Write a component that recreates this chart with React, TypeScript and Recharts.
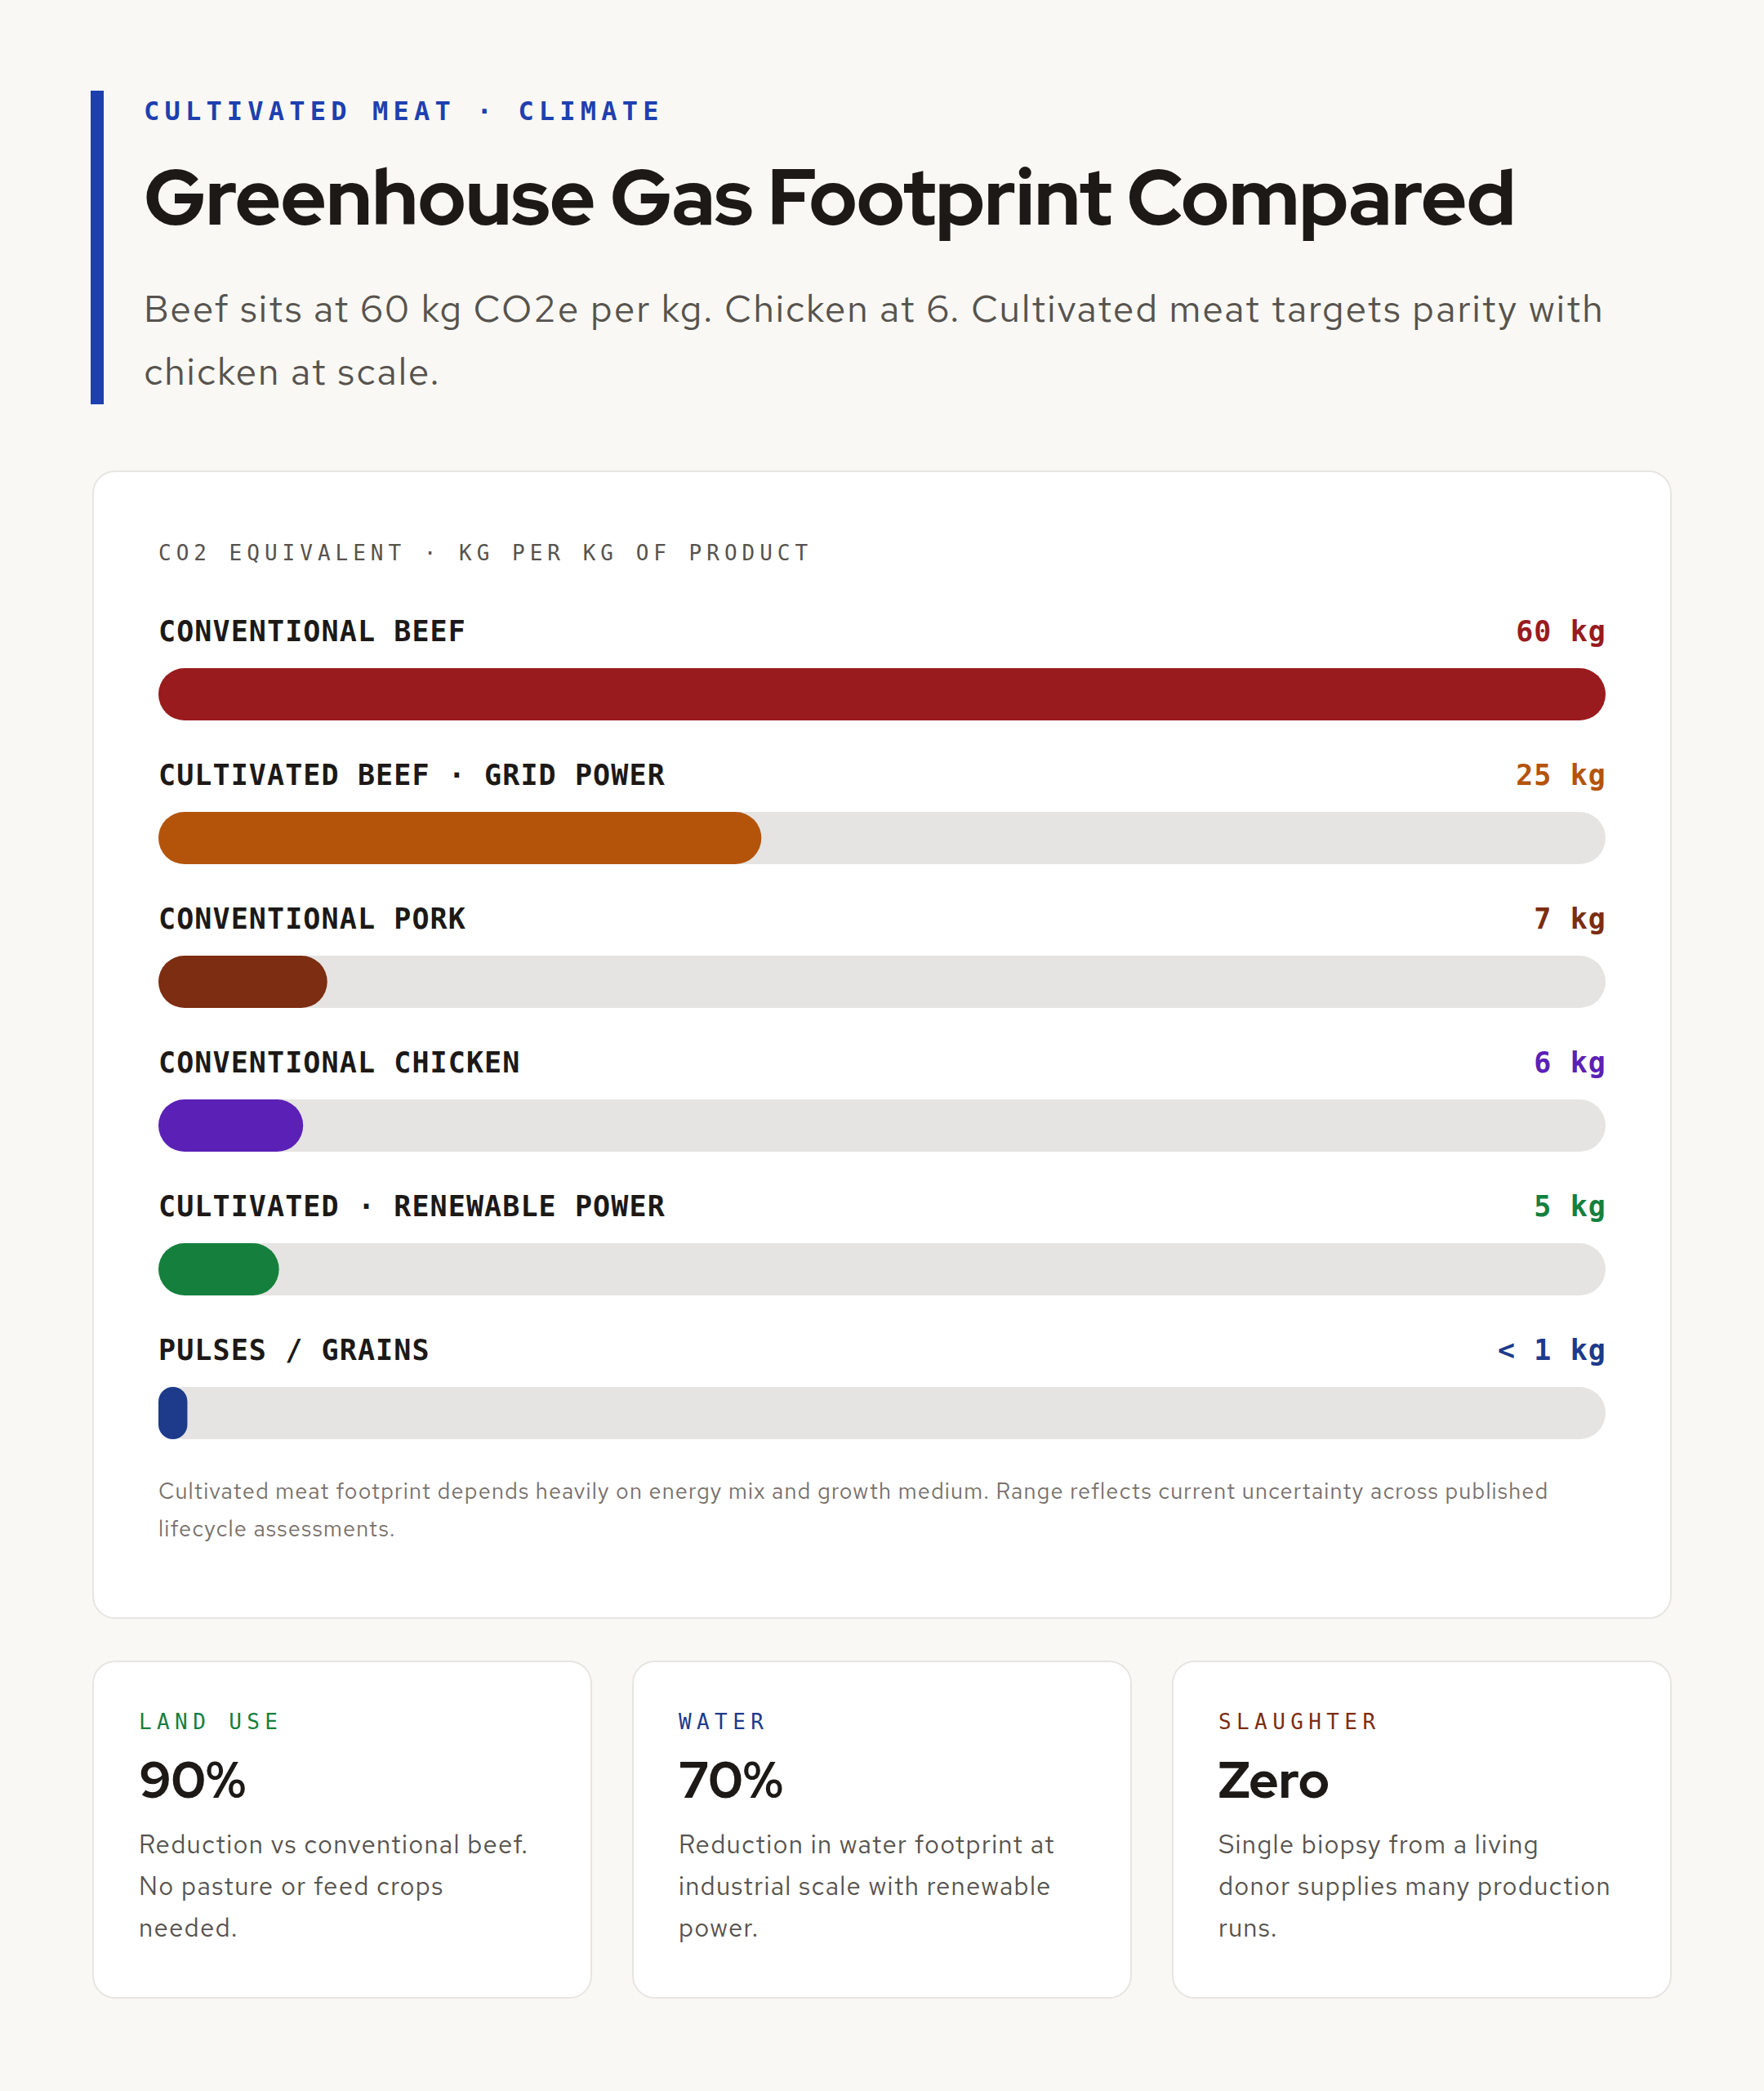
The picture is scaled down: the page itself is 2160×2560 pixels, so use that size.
import { Bar, BarChart, Cell, LabelList, XAxis, YAxis } from "recharts";

const CATEGORIES = [
  "CONVENTIONAL BEEF",
  "CULTIVATED BEEF · GRID POWER",
  "CONVENTIONAL PORK",
  "CONVENTIONAL CHICKEN",
  "CULTIVATED · RENEWABLE POWER",
  "PULSES / GRAINS",
];
const VALUES_KG = [60, 25, 7, 6, 5, 0.5];
const VALUE_LABELS = ["60 kg", "25 kg", "7 kg", "6 kg", "5 kg", "< 1 kg"];
const ROW_COLORS = ["#991B1E", "#B4540B", "#7C2D12", "#5B21B6", "#15803D", "#1E3A8A"];

const STAT_LABELS = ["LAND USE", "WATER", "SLAUGHTER"];
const STAT_VALUES = ["90%", "70%", "Zero"];
const STAT_NOTES = [
  ["Reduction vs conventional beef.", "No pasture or feed crops", "needed."],
  ["Reduction in water footprint at", "industrial scale with renewable", "power."],
  ["Single biopsy from a living", "donor supplies many production", "runs."],
];
const STAT_COLORS = ["#15803D", "#1E3A8A", "#7C2D12"];

const rows = CATEGORIES.map((name, i) => ({ name, value: VALUES_KG[i], display: VALUE_LABELS[i] }));

const DISPLAY = "'Red Hat Display', Lato, 'Noto Sans', sans-serif";
const TEXT = "'Red Hat Text', 'Red Hat Display', Lato, 'Noto Sans', sans-serif";
const MONO = "'DejaVu Sans Mono', monospace";
const INK = "#1C1917";
const MUTED = "#57534E";

const TRACK_W = 1772;
const BAR_H = 64;
const MIN_BAR = TRACK_W * 0.02;

function Track(props: any) {
  const { x, y, width, height } = props;
  return <rect x={x} y={y} width={width} height={height} rx={height / 2} ry={height / 2} fill="#E5E4E2" />;
}

function Pill(props: any) {
  const { x, y, height, fill } = props;
  const w = Math.max(props.width, MIN_BAR);
  const r = Math.min(w, height) / 2;
  return <rect x={x} y={y} width={w} height={height} rx={r} ry={r} fill={fill} />;
}

function NameLabel(props: any) {
  const vb = props.viewBox ?? props;
  return (
    <text x={vb.x} y={vb.y - 33} fill={INK} fontFamily={MONO} fontWeight={700} fontSize={35}
      style={{ letterSpacing: 1.1 }}>
      {props.value}
    </text>
  );
}

function ValueLabel(props: any) {
  const vb = props.viewBox ?? props;
  return (
    <text x={TRACK_W + 1} y={vb.y - 33} textAnchor="end" fill={ROW_COLORS[props.index]} fontFamily={MONO}
      fontWeight={700} fontSize={35} style={{ letterSpacing: 1.1 }}>
      {props.value}
    </text>
  );
}

const abs = (left: number, top: number, extra: any = {}) => ({ position: "absolute" as const, left, top, ...extra });

export default function App() {
  return (
    <div style={{ position: "absolute", left: 0, top: 0, width: 2160, height: 2560, background: "#F9F8F4", overflow: "hidden", fontFamily: TEXT }}>
      <div style={abs(111, 111, { width: 16, height: 384, background: "#1E40AF" })} />
      <div style={abs(176, 120, { fontFamily: MONO, fontWeight: 700, fontSize: 32, lineHeight: "32px", letterSpacing: 6.2, color: "#1E40AF", whiteSpace: "nowrap" })}>
        CULTIVATED MEAT · CLIMATE
      </div>
      <div style={abs(176, 193, { fontFamily: DISPLAY, fontWeight: 800, fontSize: 96, lineHeight: "96px", letterSpacing: -0.8, color: INK, whiteSpace: "nowrap" })}>
        Greenhouse Gas Footprint Compared
      </div>
      <div style={abs(176, 339, { fontSize: 46, lineHeight: "77px", letterSpacing: 1.9, color: MUTED, whiteSpace: "nowrap" })}>
        Beef sits at 60 kg CO2e per kg. Chicken at 6. Cultivated meat targets parity with
        <br />
        chicken at scale.
      </div>

      <div style={abs(113, 576, { width: 1934, height: 1406, boxSizing: "border-box", background: "#FFFFFF", border: "2px solid #E7E5E2", borderRadius: 28 })} />
      <div style={abs(194, 664, { fontFamily: MONO, fontSize: 26, lineHeight: "26px", letterSpacing: 6, color: "#57534E", whiteSpace: "nowrap" })}>
        CO2 EQUIVALENT · KG PER KG OF PRODUCT
      </div>
      <div style={abs(194, 700)}>
        <BarChart width={TRACK_W + 2} height={62 + 6 * 176} data={rows} layout="vertical"
          margin={{ top: 62, right: 2, bottom: 0, left: 0 }} barCategoryGap={112}>
          <XAxis type="number" domain={[0, 60]} hide />
          <YAxis type="category" dataKey="name" hide />
          <Bar dataKey="value" barSize={BAR_H} isAnimationActive={false} background={<Track />} shape={<Pill />}>
            {rows.map((r, i) => (
              <Cell key={r.name} fill={ROW_COLORS[i]} />
            ))}
            <LabelList dataKey="name" content={<NameLabel />} />
            <LabelList dataKey="display" content={<ValueLabel />} />
          </Bar>
        </BarChart>
      </div>
      <div style={abs(194, 1803, { fontSize: 27, lineHeight: "45.5px", letterSpacing: 1.2, color: "#78716C", whiteSpace: "nowrap" })}>
        Cultivated meat footprint depends heavily on energy mix and growth medium. Range reflects current uncertainty across published
        <br />
        lifecycle assessments.
      </div>

      {STAT_LABELS.map((label, i) => {
        const left = 113 + i * 661;
        return (
          <div key={label}>
            <div style={abs(left, 2033, { width: 612, height: 414, boxSizing: "border-box", background: "#FFFFFF", border: "2px solid #E7E5E2", borderRadius: 28 })} />
            <div style={abs(left + 57, 2095, { fontFamily: MONO, fontSize: 26, lineHeight: "26px", letterSpacing: 6.4, color: STAT_COLORS[i], whiteSpace: "nowrap" })}>
              {label}
            </div>
            <div style={abs(left + 57, 2149, { fontFamily: DISPLAY, fontWeight: 800, fontSize: 62, lineHeight: "60px", color: INK, whiteSpace: "nowrap" })}>
              {STAT_VALUES[i]}
            </div>
            <div style={abs(left + 57, 2232, { fontSize: 31, lineHeight: "51px", letterSpacing: 1.3, color: MUTED, whiteSpace: "nowrap" })}>
              {STAT_NOTES[i].map((line) => (
                <div key={line}>{line}</div>
              ))}
            </div>
          </div>
        );
      })}
    </div>
  );
}
